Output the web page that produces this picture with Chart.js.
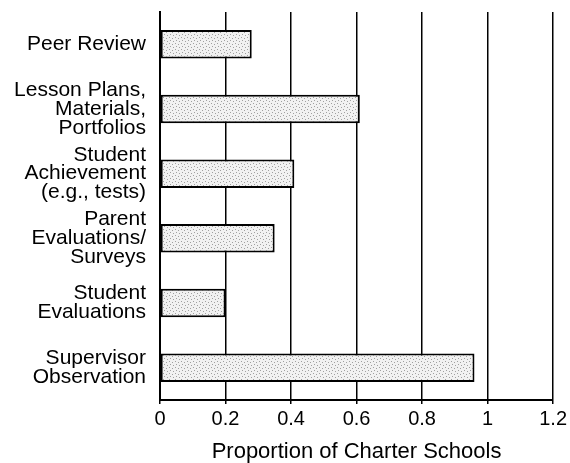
<!DOCTYPE html>
<html>
<head>
<meta charset="utf-8">
<script src="https://cdn.jsdelivr.net/npm/chart.js@4"></script>
<style>
	html, body { margin: 0; padding: 0; background: #fff; }
	#wrap { width: 570px; height: 463px; }
</style>
</head>
<body>
<div id="wrap"><canvas id="methodsChart"></canvas></div>
<script>
// Data
var categories = [
	['Peer Review'],
	['Lesson Plans,', 'Materials,', 'Portfolios'],
	['Student', 'Achievement', '(e.g., tests)'],
	['Parent', 'Evaluations/', 'Surveys'],
	['Student', 'Evaluations'],
	['Supervisor', 'Observation']
];
var proportions = [0.28, 0.61, 0.41, 0.35, 0.20, 0.96];
var xTicks = [0, 0.2, 0.4, 0.6, 0.8, 1, 1.2];

// stippled grey fill like the print
function stipple() {
	var c = document.createElement('canvas');
	c.width = 6; c.height = 6;
	var g = c.getContext('2d');
	g.fillStyle = '#f1f1f1';
	g.fillRect(0, 0, 6, 6);
	g.fillStyle = '#a0a0a0';
	g.fillRect(1, 1, 1, 1);
	g.fillRect(4, 2, 1, 1);
	g.fillRect(2, 4, 1, 1);
	g.fillRect(5, 5, 1, 1);
	return g.createPattern(c, 'repeat');
}

var font = 'Arial, "Liberation Sans", Helvetica, sans-serif';

var ctx = document.getElementById('methodsChart');
var methodsChart = new Chart(ctx, {
	type: 'bar',
	data: {
		labels: categories,
		datasets: [{
			data: proportions,
			backgroundColor: stipple(),
			borderColor: '#000',
			borderWidth: 2,
			borderSkipped: false,
			barPercentage: 0.44,
			categoryPercentage: 1
		}]
	},
	options: {
		indexAxis: 'y',
		responsive: true,
		maintainAspectRatio: false,
		animation: false,
		layout: {
			padding: { top: 12, right: 12, bottom: 0, left: 0 }
		},
		plugins: {
			legend: { display: false },
			tooltip: { enabled: false }
		},
		scales: {
			x: {
				min: 0,
				max: 1.2,
				afterFit: function(scale) { scale.height = 63; },
				afterBuildTicks: function(scale) {
					scale.ticks = xTicks.map(function(v) { return { value: v }; });
				},
				grid: {
					color: '#000',
					lineWidth: 1.5,
					drawTicks: true,
					tickLength: 4
				},
				border: { display: true, color: '#000', width: 2 },
				ticks: {
					color: '#000',
					padding: 3,
					font: { family: font, size: 20 },
					callback: function(v) { return String(v); }
				},
				title: {
					display: true,
					text: 'Proportion of Charter Schools',
					color: '#000',
					padding: 0,
					font: { family: font, size: 22, lineHeight: 1 }
				}
			},
			y: {
				afterFit: function(scale) {
					scale.width = 160;
					scale.paddingTop = 0;
					scale.paddingBottom = 0;
				},
				grid: { display: false },
				border: { display: true, color: '#000', width: 2 },
				ticks: {
					color: '#000',
					padding: 6,
					font: { family: font, size: 21, lineHeight: 0.9 }
				}
			}
		}
	}
});
</script>
</body>
</html>
